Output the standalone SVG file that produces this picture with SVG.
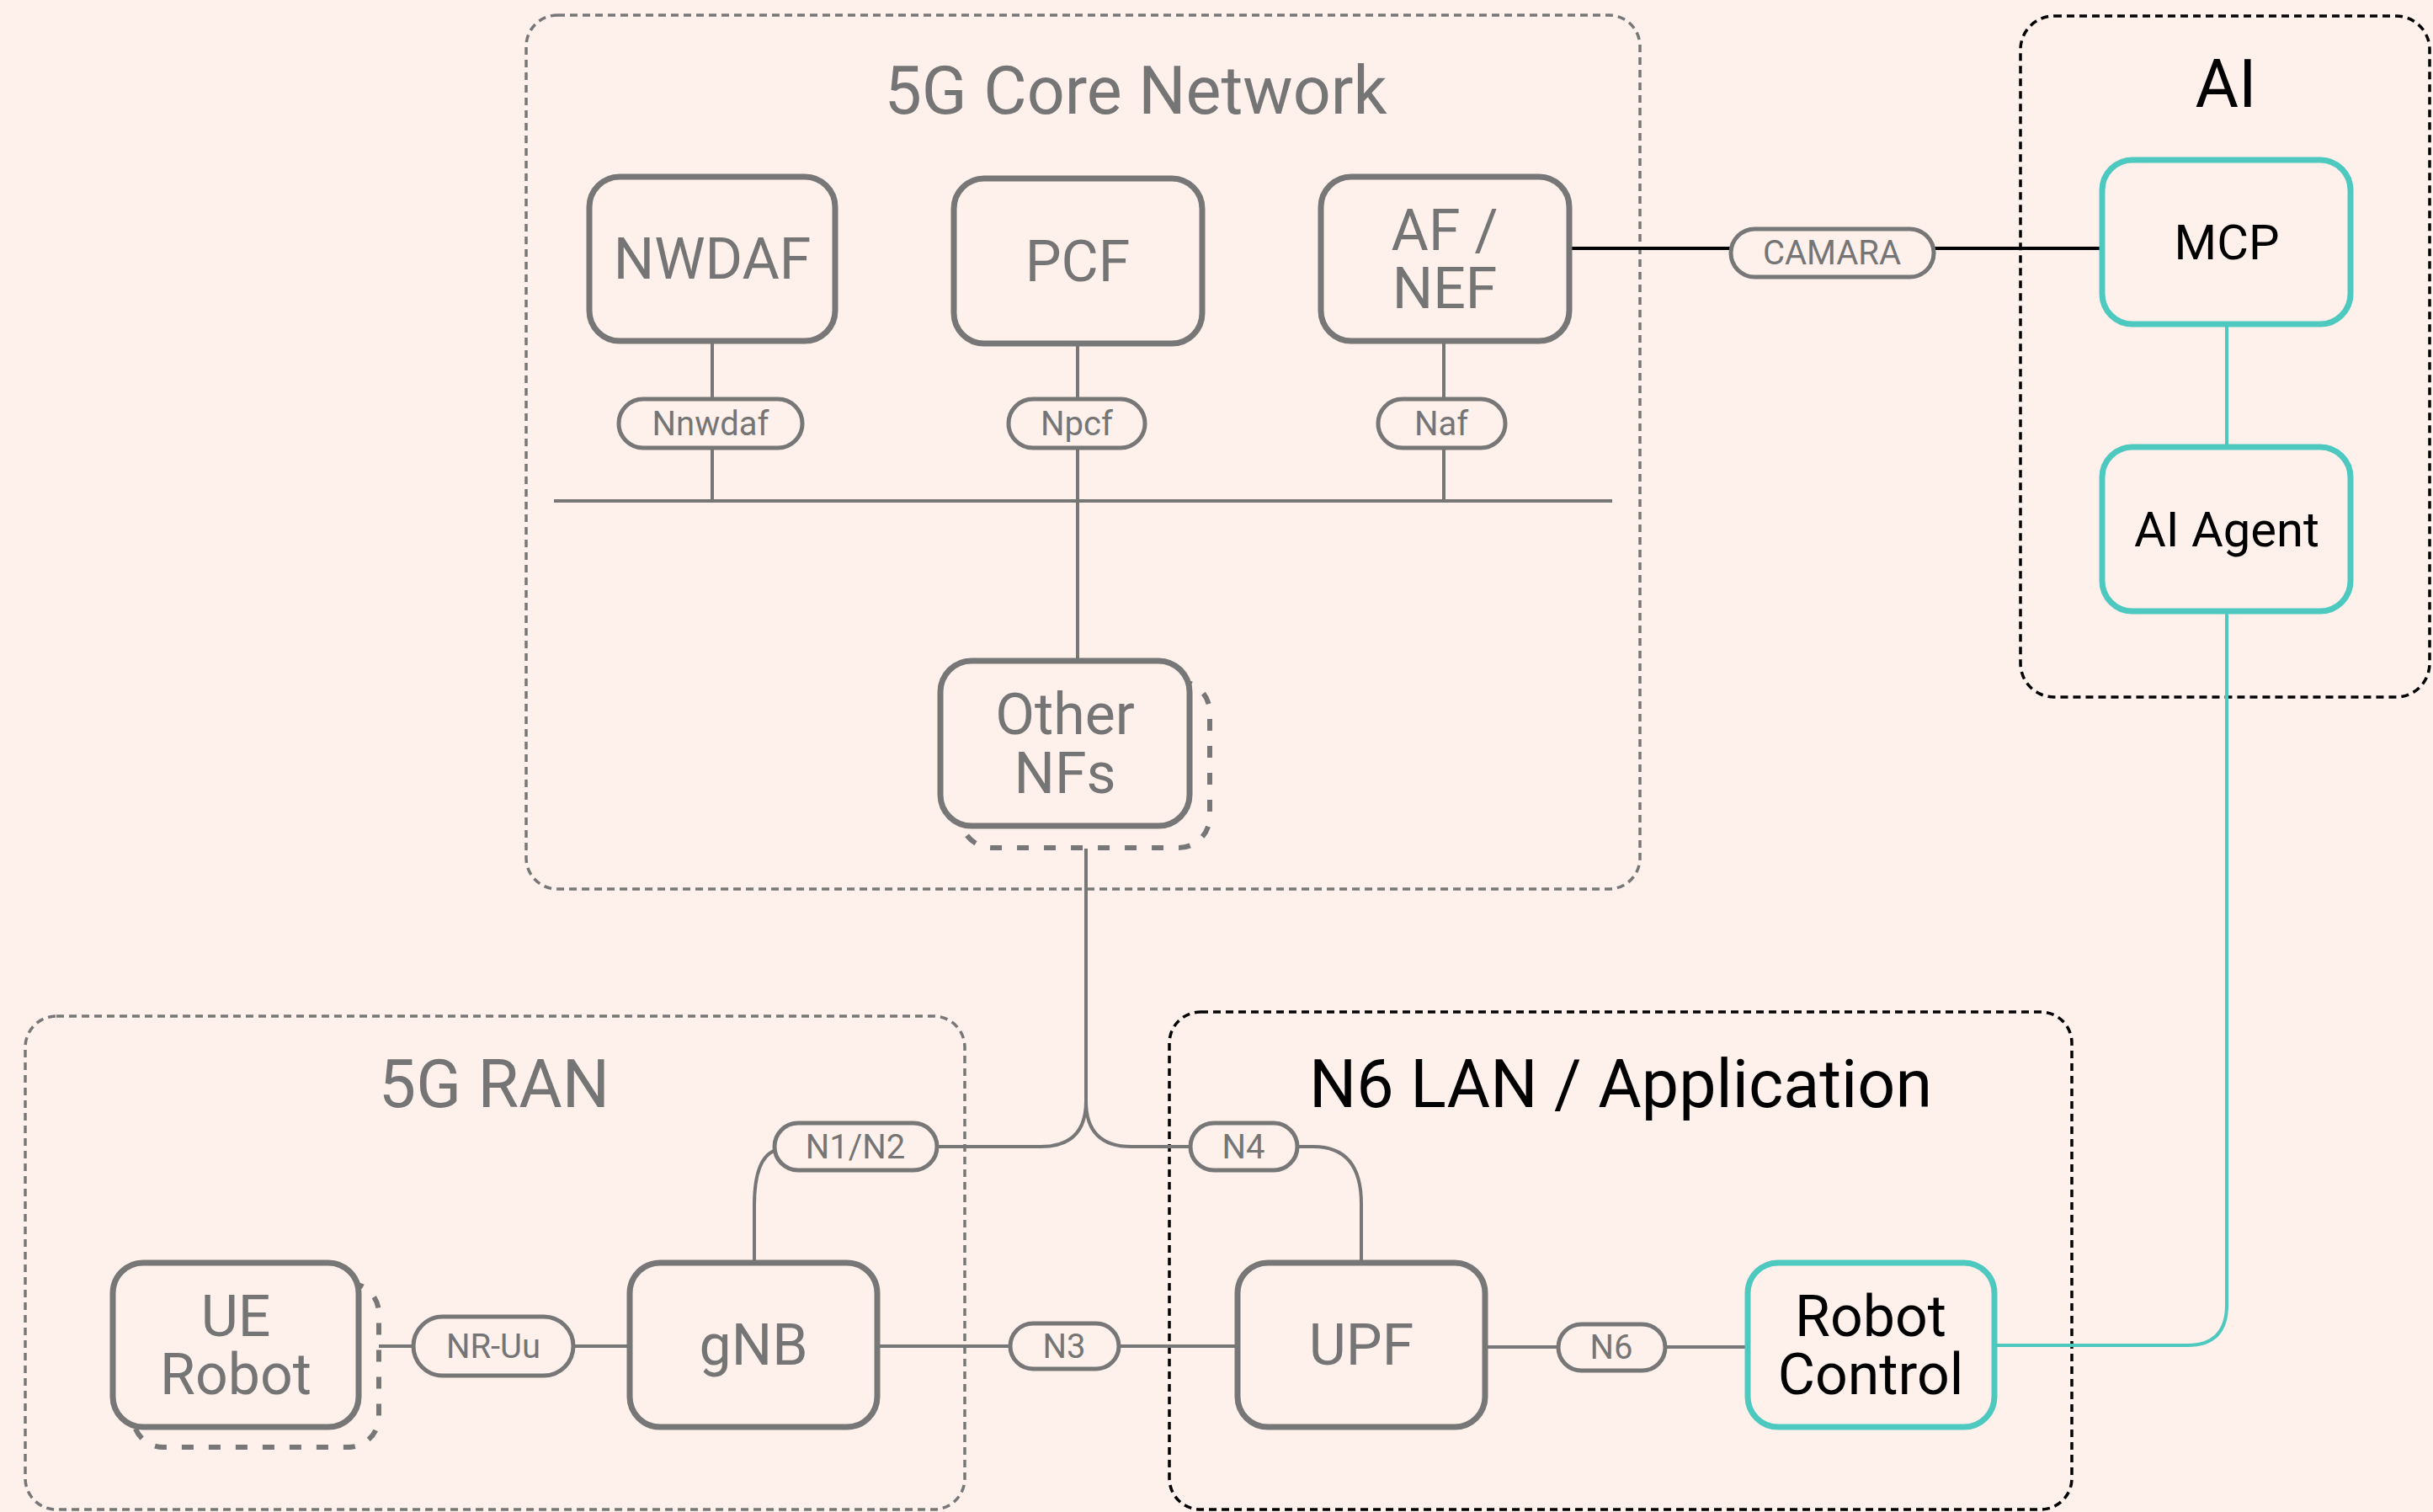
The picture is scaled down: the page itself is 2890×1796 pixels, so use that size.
<svg xmlns="http://www.w3.org/2000/svg" width="2890" height="1796" viewBox="0 0 2890 1796">
<style>
text{font-family:Roboto,"Liberation Sans",sans-serif;text-anchor:middle}
.bg{fill:#FEF0EB}
.cont{fill:none;stroke:#777777;stroke-width:3.5;stroke-dasharray:9 6}
.contb{fill:none;stroke:#000000;stroke-width:3.5;stroke-dasharray:9 6}
.ttl{font-size:79px;fill:#757575}
.ttlb{font-size:79px;fill:#000000}
.box{fill:#FEF0EB;stroke:#777777;stroke-width:7}
.tbox{fill:#FEF0EB;stroke:#4EC9C0;stroke-width:7}
.shadow{fill:none;stroke:#777777;stroke-width:6;stroke-dasharray:14 18}
.bt{font-size:68px;fill:#757575}
.btb{font-size:68px;fill:#000000}
.at{font-size:58px;fill:#000000}
.pill{fill:#FEF0EB;stroke:#777777;stroke-width:5}
.pt{font-size:40px;fill:#757575}
.ln{fill:none;stroke:#777777;stroke-width:4}
.lnb{fill:none;stroke:#000000;stroke-width:4}
.lnt{fill:none;stroke:#4EC9C0;stroke-width:4}
</style>
<rect class="bg" x="0" y="0" width="2890" height="1796"/>

<g id="containers">
<g id="core-network">
<rect class="cont" x="625" y="18" width="1323" height="1038" rx="37"/>
<text class="ttl" x="1349" y="135">5G Core Network</text>
</g>
<g id="ai-container">
<rect class="contb" x="2400" y="19" width="486" height="809" rx="40"/>
<text class="ttlb" x="2644" y="127">AI</text>
</g>
<g id="ran-container">
<rect class="cont" x="30" y="1207" width="1116" height="586" rx="37"/>
<text class="ttl" x="587" y="1315">5G RAN</text>
</g>
<g id="n6-container">
<rect class="contb" x="1389" y="1202" width="1072" height="591" rx="37"/>
<text class="ttlb" x="1925" y="1315">N6 LAN / Application</text>
</g>
</g>

<g id="connectors">
<line class="ln" x1="658" y1="595" x2="1915" y2="595"/>
<line class="ln" x1="846" y1="405" x2="846" y2="595"/>
<line class="ln" x1="1280" y1="408" x2="1280" y2="785"/>
<line class="ln" x1="1715" y1="405" x2="1715" y2="595"/>
<line class="lnb" x1="1864" y1="295" x2="2497" y2="295"/>
<line class="lnt" x1="2645" y1="385" x2="2645" y2="531"/>
<path class="lnt" d="M2368,1598 H2598 Q2645,1598 2645,1550 V726"/>
<path class="ln" d="M1290,1008 V1308 Q1290,1362 1236,1362 H1113"/>
<path class="ln" d="M1290,1308 Q1290,1362 1344,1362 H1414"/>
<path class="ln" d="M896,1498 V1432 Q896,1374 922,1366"/>
<path class="ln" d="M1541,1362 H1560 Q1617,1362 1617,1430 V1498"/>
<line class="ln" x1="450" y1="1599" x2="491" y2="1599"/>
<line class="ln" x1="681" y1="1599" x2="748" y2="1599"/>
<line class="ln" x1="1042" y1="1599" x2="1470" y2="1599"/>
<line class="ln" x1="1764" y1="1600" x2="2076" y2="1600"/>
</g>

<g id="labels">
<g id="lbl-nnwdaf"><rect class="pill" x="735" y="474" width="218" height="58" rx="29"/><text class="pt" x="844" y="517">Nnwdaf</text></g>
<g id="lbl-npcf"><rect class="pill" x="1198" y="474" width="162" height="58" rx="29"/><text class="pt" x="1279" y="517">Npcf</text></g>
<g id="lbl-naf"><rect class="pill" x="1637" y="474" width="151" height="58" rx="29"/><text class="pt" x="1712" y="517">Naf</text></g>
<g id="lbl-camara"><rect class="pill" x="2056" y="272" width="241" height="57" rx="28.5"/><text class="pt" x="2176" y="314">CAMARA</text></g>
<g id="lbl-n1n2"><rect class="pill" x="920" y="1334" width="193" height="56" rx="28"/><text class="pt" x="1016" y="1376">N1/N2</text></g>
<g id="lbl-n4"><rect class="pill" x="1414" y="1334" width="127" height="56" rx="28"/><text class="pt" x="1477" y="1376">N4</text></g>
<g id="lbl-nruu"><rect class="pill" x="491" y="1564" width="190" height="70" rx="35"/><text class="pt" x="586" y="1613">NR-Uu</text></g>
<g id="lbl-n3"><rect class="pill" x="1200" y="1572" width="129" height="54" rx="27"/><text class="pt" x="1264" y="1613">N3</text></g>
<g id="lbl-n6"><rect class="pill" x="1851" y="1573" width="127" height="55" rx="27.5"/><text class="pt" x="1914" y="1614">N6</text></g>
</g>

<g id="nwdaf"><rect class="box" x="700" y="210" width="292" height="195" rx="36"/><text class="bt" x="846" y="331">NWDAF</text></g>
<g id="pcf"><rect class="box" x="1133" y="212" width="295" height="196" rx="36"/><text class="bt" x="1280" y="334">PCF</text></g>
<g id="af-nef"><rect class="box" x="1569" y="210" width="295" height="195" rx="36"/><text class="bt" x="1716" y="297">AF /<tspan x="1716" dy="69">NEF</tspan></text></g>
<g id="other-nfs"><rect class="shadow" x="1141" y="809" width="296" height="198" rx="37"/><rect class="box" x="1117" y="785" width="296" height="196" rx="37"/><text class="bt" x="1265" y="872">Other<tspan x="1265" dy="70">NFs</tspan></text></g>
<g id="mcp"><rect class="tbox" x="2497" y="190" width="295" height="195" rx="36"/><text class="at" x="2645" y="308">MCP</text></g>
<g id="ai-agent"><rect class="tbox" x="2497" y="531" width="295" height="195" rx="36"/><text class="at" x="2645" y="649">AI Agent</text></g>
<g id="ue-robot"><rect class="shadow" x="158" y="1524" width="292" height="195" rx="36"/><rect class="box" x="134" y="1500" width="292" height="195" rx="36"/><text class="bt" x="280" y="1587">UE<tspan x="280" dy="69">Robot</tspan></text></g>
<g id="gnb"><rect class="box" x="748" y="1500" width="294" height="195" rx="36"/><text class="bt" x="895" y="1621">gNB</text></g>
<g id="upf"><rect class="box" x="1470" y="1500" width="294" height="195" rx="36"/><text class="bt" x="1617" y="1621">UPF</text></g>
<g id="robot-control"><rect class="tbox" x="2076" y="1500" width="293" height="195" rx="36"/><text class="btb" x="2222" y="1587">Robot<tspan x="2222" dy="69">Control</tspan></text></g>
</svg>
